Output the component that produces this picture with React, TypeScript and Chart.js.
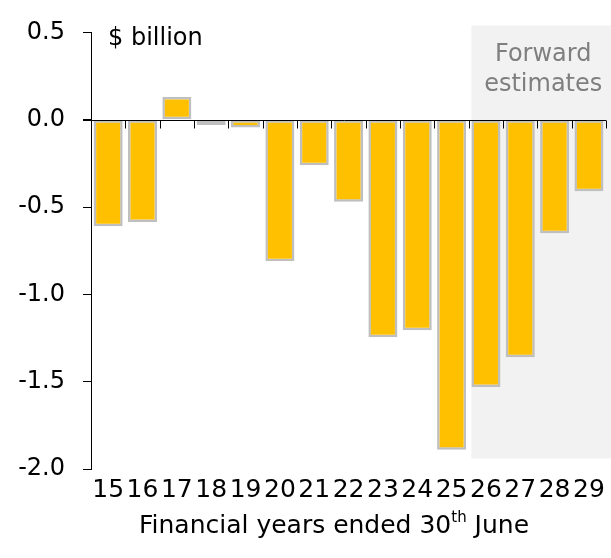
import React, { useEffect, useRef } from "react";
import { Chart, registerables } from "chart.js";

Chart.register(...registerables);

const years = ["15", "16", "17", "18", "19", "20", "21", "22", "23", "24", "25", "26", "27", "28", "29"];
const balance = [-0.61, -0.585, 0.13, -0.03, -0.045, -0.81, -0.26, -0.47, -1.245, -1.205, -1.89, -1.53, -1.36, -0.65, -0.41];
const yMin = -2.0;
const yMax = 0.5;
const yStep = 0.5;
const forecastStart = "26";
const forecastLabel = ["Forward", "estimates"];
const unitLabel = "$ billion";
const axisTitle = ["Financial years ended 30", "th", " June"];

const FONT = "'DejaVu Sans', sans-serif";

const decorPlugin = {
  id: "decor",
  beforeDatasetsDraw(chart: any) {
    const { ctx, scales } = chart;
    const y = scales.y;
    const meta = chart.getDatasetMeta(0);
    const idx = years.indexOf(forecastStart);
    const bar = meta.data[idx];
    const left = bar.x - bar.width / 2;
    const top = y.getPixelForValue(0.54);
    const bottom = y.getPixelForValue(-1.94);
    ctx.save();
    ctx.fillStyle = "#F2F2F2";
    ctx.fillRect(left, top, chart.width - left, bottom - top);
    ctx.fillStyle = "#7F7F7F";
    ctx.font = `24px ${FONT}`;
    ctx.textAlign = "center";
    ctx.textBaseline = "middle";
    const cx = (left + chart.width) / 2 + 2;
    ctx.fillText(forecastLabel[0], cx, top + 29);
    ctx.fillText(forecastLabel[1], cx, top + 59);
    ctx.restore();
  },
  afterDatasetsDraw(chart: any) {
    const { ctx, chartArea, scales } = chart;
    const x = scales.x;
    const y = scales.y;
    const y0 = Math.round(y.getPixelForValue(0)) + 0.5;
    ctx.save();
    ctx.strokeStyle = "#000";
    ctx.lineWidth = 1;
    ctx.beginPath();
    ctx.moveTo(chartArea.left - 8, y0);
    ctx.lineTo(chartArea.right, y0);
    const n = years.length;
    const step = (x.right - x.left) / n;
    for (let k = 0; k <= n; k++) {
      const px = Math.round(x.left + k * step) + 0.5;
      ctx.moveTo(px, y0);
      ctx.lineTo(px, y0 + 8);
    }
    ctx.stroke();

    // unit label
    ctx.fillStyle = "#000";
    ctx.font = `24px ${FONT}`;
    ctx.textAlign = "left";
    ctx.textBaseline = "middle";
    ctx.fillText(unitLabel, chartArea.left + 17, chartArea.top + 6);

    // axis title with superscript
    const big = `25px ${FONT}`;
    const small = `15px ${FONT}`;
    ctx.font = big;
    const w1 = ctx.measureText(axisTitle[0]).width;
    const w3 = ctx.measureText(axisTitle[2]).width;
    ctx.font = small;
    const w2 = ctx.measureText(axisTitle[1]).width;
    const total = w1 + w2 + w3;
    const cx = 334;
    const ty = 526;
    let sx = cx - total / 2;
    ctx.font = big;
    ctx.fillText(axisTitle[0], sx, ty);
    sx += w1;
    ctx.font = small;
    ctx.fillText(axisTitle[1], sx, ty - 8);
    sx += w2;
    ctx.font = big;
    ctx.fillText(axisTitle[2], sx, ty);
    ctx.restore();
  },
};

export default function App() {
  const ref = useRef<HTMLCanvasElement>(null);
  useEffect(() => {
    const canvas = ref.current!;
    const chart = new Chart(canvas, {
      type: "bar",
      data: {
        labels: years,
        datasets: [
          {
            data: balance,
            backgroundColor: "#FFC000",
            borderColor: "#BFBFBF",
            borderWidth: 2.5,
            borderSkipped: false,
            barPercentage: 0.845,
            categoryPercentage: 1,
          },
        ],
      },
      options: {
        animation: false,
        responsive: false,
        devicePixelRatio: 1,
        layout: { padding: { top: 30, right: 4, left: 0, bottom: 0 } },
        plugins: { legend: { display: false }, tooltip: { enabled: false }, title: { display: false } },
        scales: {
          x: {
            grid: { display: false, drawTicks: false, tickLength: 0 },
            border: { display: false },
            ticks: {
              autoSkip: false,
              maxRotation: 0,
              minRotation: 0,
              padding: 6,
              color: "#000",
              font: { family: FONT, size: 25 },
            },
            afterFit: (s: any) => {
              s.height = 89;
            },
          },
          y: {
            min: yMin,
            max: yMax,
            grid: { drawOnChartArea: false, drawTicks: true, tickLength: 8, color: "#000", lineWidth: 1 },
            border: { display: true, color: "#000", width: 1 },
            ticks: {
              stepSize: yStep,
              padding: 18,
              color: "#000",
              font: { family: FONT, size: 24 },
              callback: (v: any) => Number(v).toFixed(1),
            },
            afterFit: (s: any) => {
              s.width = 91;
            },
          },
        },
      },
      plugins: [decorPlugin],
    });
    return () => chart.destroy();
  }, []);
  return (
    <div style={{ position: "fixed", left: 0, top: 0, width: 611, height: 558, background: "#fff" }}>
      <canvas ref={ref} width={611} height={558} />
    </div>
  );
}
